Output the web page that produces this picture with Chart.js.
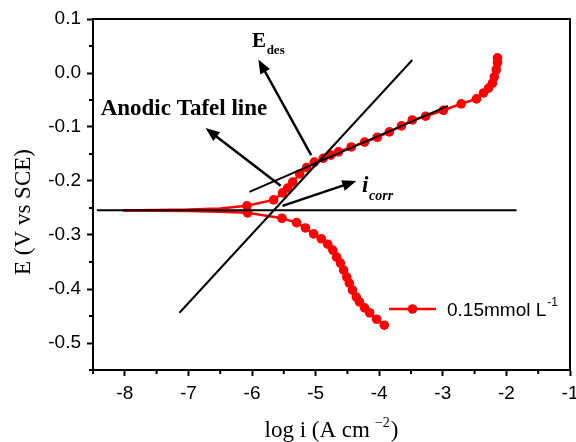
<!DOCTYPE html>
<html><head><meta charset="utf-8">
<script src="https://cdn.jsdelivr.net/npm/chart.js@4.4.1/dist/chart.umd.min.js"></script>
<style>html,body{margin:0;padding:0;background:#fff}canvas{display:block}</style>
</head><body>
<canvas id="c" width="576" height="442"></canvas>
<script>
// ---- axis ticks ----
const xTicks = [-8, -7, -6, -5, -4, -3, -2, -1];
const yTicks = [0.1, 0.0, -0.1, -0.2, -0.3, -0.4, -0.5];
const xMinor = [-8.5, -7.5, -6.5, -5.5, -4.5, -3.5, -2.5, -1.5];
const yMinor = [0.05, -0.05, -0.15, -0.25, -0.35, -0.45, -0.55];

// ---- polarization curve, 0.15 mmol L-1 ----
const anodicLogI = [-8.03, -7.5, -7.0, -6.5, -6.08, -5.66, -5.52, -5.44, -5.36, -5.25, -5.14, -5.02, -4.88, -4.76, -4.64, -4.44, -4.23, -4.03, -3.84, -3.65, -3.48, -3.27, -2.99, -2.71, -2.47, -2.36, -2.28, -2.22, -2.19, -2.16, -2.14, -2.14];
const anodicE    = [-0.2545, -0.2535, -0.253, -0.251, -0.246, -0.235, -0.222, -0.213, -0.202, -0.187, -0.175, -0.165, -0.158, -0.152, -0.146, -0.137, -0.128, -0.119, -0.109, -0.098, -0.087, -0.080, -0.069, -0.057, -0.048, -0.037, -0.028, -0.019, -0.007, 0.006, 0.019, 0.028];
const anodicMarked = [0, 0, 0, 0, 1, 1, 1, 1, 1, 1, 1, 1, 1, 1, 1, 1, 1, 1, 1, 1, 1, 1, 1, 1, 1, 1, 1, 1, 1, 1, 1, 1];

const cathodicLogI = [-8.03, -7.5, -7.0, -6.5, -6.07, -5.53, -5.30, -5.16, -5.03, -4.91, -4.81, -4.73, -4.67, -4.61, -4.56, -4.51, -4.47, -4.42, -4.36, -4.31, -4.23, -4.15, -4.04, -3.92];
const cathodicE    = [-0.2545, -0.255, -0.2555, -0.257, -0.259, -0.269, -0.277, -0.287, -0.298, -0.307, -0.317, -0.328, -0.341, -0.352, -0.365, -0.378, -0.389, -0.402, -0.415, -0.424, -0.435, -0.444, -0.456, -0.467];
const cathodicMarked = [0, 0, 0, 0, 1, 1, 1, 1, 1, 1, 1, 1, 1, 1, 1, 1, 1, 1, 1, 1, 1, 1, 1, 1];

// ---- construction lines ----
const ecorrLineX = [-8.44, -1.84];
const ecorrLineE = [-0.254, -0.254];
const steepLineX = [-7.14, -3.48];
const steepLineE = [-0.444, 0.024];
const tafelLineX = [-6.04, -2.92];
const tafelLineE = [-0.220, -0.061];

// ---- arrows: [tailX, tailE, headX, headE] ----
const arrowTafel = [-5.55, -0.209, -6.73, -0.102];
const arrowEdes  = [-5.07, -0.152, -5.90, 0.025];
const arrowIcorr = [-5.52, -0.246, -4.36, -0.200];

const seriesName = '0.15mmol L';

function pts(xs, ys) { return xs.map((x, i) => ({x: x, y: ys[i]})); }

const overlay = {
  id: 'overlay',
  afterDatasetsDraw(chart) {
    const {ctx, chartArea: ca, scales: {x, y}} = chart;
    ctx.save();
    const drawArrow = (a) => {
      const x1 = x.getPixelForValue(a[0]), y1 = y.getPixelForValue(a[1]);
      const x2 = x.getPixelForValue(a[2]), y2 = y.getPixelForValue(a[3]);
      const ang = Math.atan2(y2 - y1, x2 - x1);
      const L = 14, W = 5.5;
      const bx = x2 - L * Math.cos(ang), by = y2 - L * Math.sin(ang);
      ctx.strokeStyle = '#000'; ctx.lineWidth = 2.5; ctx.lineCap = 'butt';
      ctx.beginPath(); ctx.moveTo(x1, y1); ctx.lineTo(bx + 2 * Math.cos(ang), by + 2 * Math.sin(ang)); ctx.stroke();
      ctx.fillStyle = '#000';
      ctx.beginPath();
      ctx.moveTo(x2, y2);
      ctx.lineTo(bx + W * Math.sin(ang), by - W * Math.cos(ang));
      ctx.lineTo(bx - W * Math.sin(ang), by + W * Math.cos(ang));
      ctx.closePath(); ctx.fill();
    };
    drawArrow(arrowTafel); drawArrow(arrowEdes); drawArrow(arrowIcorr);

    ctx.fillStyle = '#000'; ctx.textBaseline = 'alphabetic'; ctx.textAlign = 'left';
    ctx.font = 'bold 23px "Liberation Serif"';
    ctx.fillText('Anodic Tafel line', x.getPixelForValue(-8.38), y.getPixelForValue(-0.078));
    ctx.font = 'bold 21px "Liberation Serif"';
    ctx.fillText('E', x.getPixelForValue(-6.0), y.getPixelForValue(0.048));
    ctx.font = 'bold 13px "Liberation Serif"';
    ctx.fillText('des', x.getPixelForValue(-5.77), y.getPixelForValue(0.035));
    ctx.font = 'italic bold 23px "Liberation Serif"';
    ctx.fillText('i', x.getPixelForValue(-4.27), y.getPixelForValue(-0.220));
    ctx.font = 'italic bold 14px "Liberation Serif"';
    ctx.fillText('corr', x.getPixelForValue(-4.16), y.getPixelForValue(-0.236));

    const ly = 309;
    ctx.strokeStyle = '#ff0000'; ctx.lineWidth = 2.5;
    ctx.beginPath(); ctx.moveTo(389, ly); ctx.lineTo(436, ly); ctx.stroke();
    ctx.fillStyle = '#ff0000';
    ctx.beginPath(); ctx.arc(412.5, ly, 4.8, 0, Math.PI * 2); ctx.fill();
    ctx.fillStyle = '#000';
    ctx.font = '19px "Liberation Sans"';
    ctx.fillText(seriesName, 447, 316);
    const w = ctx.measureText(seriesName).width;
    ctx.font = '12px "Liberation Sans"';
    ctx.fillText('-1', 447 + w + 1, 306);
    ctx.restore();
  },
  afterDraw(chart) {
    const {ctx, chartArea: ca, scales: {x, y}} = chart;
    ctx.save();
    ctx.strokeStyle = '#000'; ctx.lineWidth = 2;
    ctx.strokeRect(ca.left, ca.top, ca.right - ca.left, ca.bottom - ca.top);
    ctx.beginPath();
    xMinor.forEach(v => { const p = x.getPixelForValue(v); ctx.moveTo(p, ca.bottom); ctx.lineTo(p, ca.bottom + 4); });
    yMinor.forEach(v => { const p = y.getPixelForValue(v); ctx.moveTo(ca.left, p); ctx.lineTo(ca.left - 4, p); });
    ctx.stroke();
    ctx.fillStyle = '#000';
    ctx.font = '23px "Liberation Serif"';
    ctx.textBaseline = 'alphabetic'; ctx.textAlign = 'left';
    const t1 = 'log i (A cm', t2 = '\u22122', t3 = ')';
    const w1 = ctx.measureText(t1).width;
    ctx.font = '14px "Liberation Serif"';
    const w2 = ctx.measureText(t2).width;
    ctx.font = '23px "Liberation Serif"';
    const w3 = ctx.measureText(t3).width;
    const total = w1 + 5 + w2 + 1 + w3;
    let sx = (ca.left + ca.right) / 2 - total / 2;
    const by = 437;
    ctx.fillText(t1, sx, by);
    ctx.font = '14px "Liberation Serif"';
    ctx.fillText(t2, sx + w1 + 5, by - 10);
    ctx.font = '23px "Liberation Serif"';
    ctx.fillText(t3, sx + w1 + 5 + w2 + 1, by);
    ctx.save();
    ctx.translate(24, 212);
    ctx.rotate(-Math.PI / 2);
    ctx.textAlign = 'center'; ctx.textBaseline = 'middle';
    ctx.font = '23px "Liberation Serif"';
    ctx.fillText('E (V vs SCE)', 0, 0);
    ctx.restore();
    ctx.restore();
  }
};

new Chart(document.getElementById('c'), {
  type: 'line',
  data: {
    datasets: [
      {data: pts(ecorrLineX, ecorrLineE), borderColor: '#000', borderWidth: 2, pointRadius: 0, order: 0},
      {data: pts(steepLineX, steepLineE), borderColor: '#000', borderWidth: 2, pointRadius: 0, order: 0},
      {data: pts(tafelLineX, tafelLineE), borderColor: '#000', borderWidth: 2, pointRadius: 0, order: 0},
      {data: pts(anodicLogI, anodicE), borderColor: '#ff0000', borderWidth: 2.5, pointRadius: anodicMarked.map(m => m ? 4.8 : 0),
       pointBackgroundColor: '#ff0000', pointBorderWidth: 0, order: 1},
      {data: pts(cathodicLogI, cathodicE), borderColor: '#ff0000', borderWidth: 2.5, pointRadius: cathodicMarked.map(m => m ? 4.8 : 0),
       pointBackgroundColor: '#ff0000', pointBorderWidth: 0, order: 1}
    ]
  },
  options: {
    responsive: false, animation: false, devicePixelRatio: 1,
    layout: {padding: {top: 19, right: 6, left: 0, bottom: 0}},
    plugins: {legend: {display: false}, tooltip: {enabled: false}},
    elements: {line: {tension: 0}},
    scales: {
      x: {
        type: 'linear', min: -8.5, max: -1,
        afterBuildTicks: s => { s.ticks = xTicks.map(v => ({value: v})); },
        afterFit: s => { s.height = 72; s.paddingLeft = 0; s.paddingRight = 0; },
        grid: {drawOnChartArea: false, drawTicks: true, tickLength: 6, tickWidth: 2, tickColor: '#000'},
        border: {display: true, color: '#000', width: 2},
        ticks: {color: '#000', font: {family: 'Liberation Sans', size: 19}, padding: 6, maxRotation: 0, autoSkip: false,
                callback: v => String(v)}
      },
      y: {
        type: 'linear', min: -0.55, max: 0.1,
        afterBuildTicks: s => { s.ticks = yTicks.map(v => ({value: v})); },
        afterFit: s => { s.width = 93; s.paddingTop = 0; s.paddingBottom = 0; },
        grid: {drawOnChartArea: false, drawTicks: true, tickLength: 6, tickWidth: 2, tickColor: '#000'},
        border: {display: true, color: '#000', width: 2},
        ticks: {color: '#000', font: {family: 'Liberation Sans', size: 19}, padding: 6, autoSkip: false,
                callback: v => v.toFixed(1)}
      }
    }
  },
  plugins: [overlay]
});
</script>
</body></html>
